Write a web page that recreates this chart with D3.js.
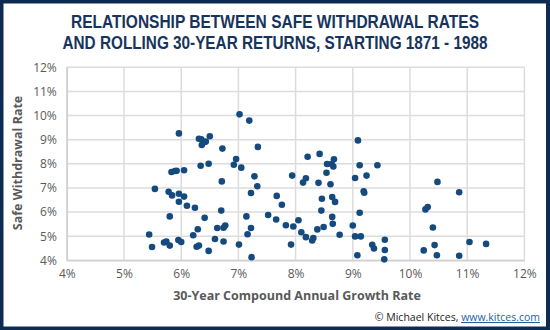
<!DOCTYPE html>
<html>
<head>
<meta charset="utf-8">
<script src="https://cdn.jsdelivr.net/npm/d3@7"></script>
<style>
  html, body { margin: 0; padding: 0; background: #fff; }
  svg { display: block; }
</style>
</head>
<body>
<svg id="chart" width="550" height="330"></svg>
<script>
// 30-year compound annual growth rate (%)
const cagr = [
  5.44,5.49,5.54,5.70,5.74,5.78,5.84,5.80,5.80,5.83,5.89,5.92,6.05,5.96,5.96,6.05,5.96,6.10,6.24,5.95,
  6.00,6.21,6.29,6.27,6.31,6.41,6.48,6.31,6.35,6.41,6.43,6.36,6.50,6.34,6.48,6.59,6.63,6.74,6.77,6.70,
  6.74,6.71,6.72,7.02,7.19,7.34,6.96,6.92,7.05,7.28,7.33,7.22,7.01,7.16,7.22,7.14,7.23,7.52,7.66,7.67,
  7.76,7.83,7.96,8.05,7.92,7.94,8.10,8.18,8.13,8.18,8.21,8.29,8.31,8.38,8.42,8.45,8.46,8.49,8.54,8.55,
  8.63,8.66,8.67,8.40,8.61,8.64,8.69,8.64,8.65,8.77,9.00,9.04,9.14,9.08,9.09,9.12,9.43,9.24,9.04,9.19,
  9.20,9.12,9.34,9.37,9.56,9.56,9.55,10.48,10.86,10.31,10.27,10.40,11.04,11.33,10.43,10.24,10.47,10.86
];
// Safe withdrawal rate (%)
const swr = [
  5.07,4.55,6.96,4.74,4.78,6.84,6.69,4.61,5.82,7.66,7.70,7.71,7.73,9.26,6.76,6.64,6.43,6.26,6.18,4.84,
  4.76,5.04,5.29,4.56,4.61,5.76,4.39,9.04,9.02,8.90,8.92,8.78,9.14,7.92,8.00,4.88,5.34,5.35,5.44,6.06,
  4.78,7.27,8.63,10.05,9.79,8.70,8.20,7.96,7.84,7.48,7.07,6.79,4.65,5.08,5.34,5.82,4.13,5.88,5.69,6.67,
  6.30,5.45,5.40,5.66,4.65,7.51,5.16,4.96,7.22,7.40,8.29,4.82,4.92,5.28,8.41,6.06,6.55,5.38,7.63,7.99,
  7.99,7.89,8.19,7.21,7.15,6.62,6.42,5.80,5.51,5.06,5.44,4.99,4.99,4.21,8.97,7.94,7.94,7.51,7.41,6.86,
  6.80,5.97,4.64,4.49,4.85,4.43,4.04,7.25,6.82,6.21,6.11,5.36,4.76,4.68,4.63,4.41,4.21,4.19
];
const xTicks = [4,5,6,7,8,9,10,11,12];
const yTicks = [4,5,6,7,8,9,10,11,12];
const titleLines = ["RELATIONSHIP BETWEEN SAFE WITHDRAWAL RATES", "AND ROLLING 30-YEAR RETURNS, STARTING 1871 - 1988"];
const xTitle = "30-Year Compound Annual Growth Rate";
const yTitle = "Safe Withdrawal Rate";

const W = 550, H = 330;
const svg = d3.select("#chart");
const navy = "#0d2b53";

svg.append("rect").attr("x",0).attr("y",0).attr("width",W).attr("height",H).attr("fill",navy);
svg.append("rect").attr("x",3.5).attr("y",3.5).attr("width",W-7.5).attr("height",H-7).attr("fill","#fff");

const x = d3.scaleLinear().domain([4,12]).range([66.8,524.4]);
const y = d3.scaleLinear().domain([4,12]).range([260.3,67.3]);

// title
const tw = [408, 425];
titleLines.forEach((t,i)=>{
  svg.append("text")
    .attr("x",275).attr("y",28 + i*20.5)
    .attr("text-anchor","middle")
    .attr("font-family","'Liberation Sans', Arial, sans-serif")
    .attr("font-weight",700)
    .attr("font-size",17.5)
    .attr("fill","#17345c")
    .attr("textLength",tw[i]).attr("lengthAdjust","spacingAndGlyphs")
    .text(t);
});

const grid = "#dcdcdc";
// gridlines
svg.append("g").selectAll("line").data(yTicks).join("line")
  .attr("x1",x(4)).attr("x2",x(12))
  .attr("y1",d=>y(d)).attr("y2",d=>y(d))
  .attr("stroke",grid).attr("stroke-width",1.5);
svg.append("g").selectAll("line").data(xTicks).join("line")
  .attr("y1",y(4)).attr("y2",y(12))
  .attr("x1",d=>x(d)).attr("x2",d=>x(d))
  .attr("stroke",grid).attr("stroke-width",1.5);

// axes
const fmt = d => d + "%";
const gx = svg.append("g").attr("transform",`translate(0,${y(4)})`)
  .call(d3.axisBottom(x).tickValues(xTicks).tickFormat(fmt).tickSize(0).tickPadding(9));
const gy = svg.append("g").attr("transform",`translate(${x(4)},0)`)
  .call(d3.axisLeft(y).tickValues(yTicks).tickFormat(fmt).tickSize(0).tickPadding(10));
[gx,gy].forEach(g=>{
  g.select(".domain").attr("stroke","#d0d0d0").attr("stroke-width",1.5);
  g.selectAll("text").attr("font-family","'Open Sans', sans-serif").attr("font-size",12).attr("fill","#5a5a5a");
});

// axis titles
svg.append("text").attr("x",297).attr("y",300).attr("text-anchor","middle")
  .attr("font-family","'Open Sans', sans-serif").attr("font-weight",700).attr("font-size",12.5)
  .attr("fill","#595959").text(xTitle);
svg.append("text").attr("transform","translate(22,163) rotate(-90)").attr("text-anchor","middle")
  .attr("font-family","'Open Sans', sans-serif").attr("font-weight",700).attr("font-size",12.5)
  .attr("fill","#595959").text(yTitle);

// points
svg.append("g").selectAll("circle").data(cagr.map((c,i)=>[c,swr[i]])).join("circle")
  .attr("cx",d=>x(d[0])).attr("cy",d=>y(d[1])).attr("r",3.3)
  .attr("fill","#154a7e");

// credit
const cr = svg.append("text").attr("x",540).attr("y",321).attr("text-anchor","end")
  .attr("font-family","'Open Sans', sans-serif").attr("font-size",10.5).attr("fill","#222");
cr.append("tspan").text("© Michael Kitces, ");
cr.append("tspan").attr("fill","#1f5fa0").attr("text-decoration","underline").text("www.kitces.com");
</script>
</body>
</html>
